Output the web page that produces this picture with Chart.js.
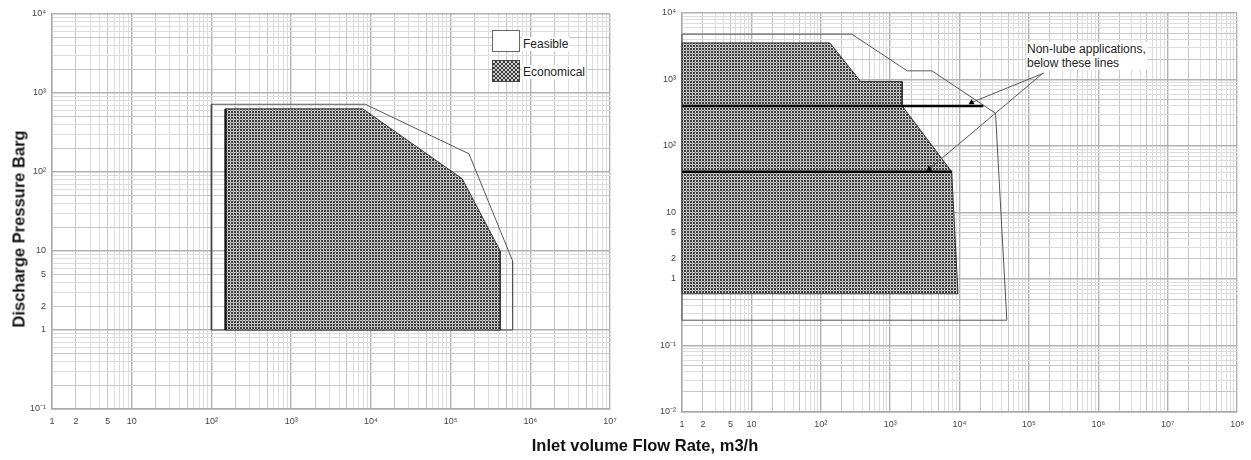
<!DOCTYPE html>
<html><head><meta charset="utf-8">
<script src="https://cdn.jsdelivr.net/npm/chart.js@4"></script>
<style>
body{margin:0;background:#fff;width:1251px;height:460px;overflow:hidden;position:relative;font-family:"Liberation Sans",Arial,sans-serif;color:#222}
canvas{position:absolute;top:0}
#c1{left:0}
#c2{left:630px}
.ov{position:absolute;white-space:nowrap}
.yt{left:19px;top:229px;transform:translate(-50%,-50%) rotate(-90deg);font-weight:bold;font-size:16.5px;color:#111}
.xt{left:645px;top:445px;transform:translate(-50%,-50%);font-weight:bold;font-size:16.5px;color:#111}
.sw{position:absolute;width:26px;height:20px;border:1px solid #666;background:#fff}
.sw2{background:repeating-conic-gradient(#3a3a3a 0 25%,#cfcfcf 0 50%) 0 0/4px 4px;border-color:#444}
.lt{font-size:12px;background:#fff;padding:0 1px;line-height:14px}
</style></head>
<body>
<canvas id="c1" width="630" height="460"></canvas>
<canvas id="c2" width="621" height="460"></canvas>
<div class="ov yt">Discharge Pressure Barg</div>
<div class="ov xt">Inlet volume Flow Rate, m3/h</div>
<div class="sw" style="left:492px;top:30px"></div>
<div class="sw sw2" style="left:492px;top:60px"></div>
<div class="ov lt" style="left:522px;top:37px">Feasible</div>
<div class="ov lt" style="left:522px;top:65px">Economical</div>
<div class="ov lt" style="left:1026px;top:42px">Non-lube applications,<br>below these lines</div>
<script>
// ---- data (x = inlet flow m3/h, y = discharge pressure barg) ----
const leftFeasible    = [[100,1],[100,720],[8500,720],[170000,170],[600000,7.5],[600000,1],[100,1]];
const leftEconomical  = [[150,1],[150,630],[7900,630],[140000,82],[420000,10],[420000,1],[150,1]];
const leftEconEdge    = [[150,1],[150,630]];
const leftFeasEdge    = [[100,1],[100,720]];
const rightFeasible   = [[1,0.24],[1,4800],[280,4800],[1760,1350],[4000,1350],[33000,310],[48000,0.24],[1,0.24]];
const rightEconomical = [[1,0.6],[1,3550],[135,3550],[376,930],[1490,930],[1490,400],[7700,41],[9500,0.6],[1,0.6]];
const nonLubeLine1    = [[1,400],[22000,400]];
const nonLubeLine2    = [[1,41],[7700,41]];
const leader1         = [[164000,1250],[14900,451]];
const leader2         = [[160000,1250],[3640,45]];
const arrowTips       = [[14900,451],[3640,45]];

const leftXTickValues  = [1,2,5,10,100,1e3,1e4,1e5,1e6,1e7];
const leftXTickLabels  = ['1','2','5','10','10²','10³','10⁴','10⁵','10⁶','10⁷'];
const rightXTickValues = [1,2,5,10,100,1e3,1e4,1e5,1e6,1e7,1e8];
const rightXTickLabels = ['1','2','5','10','10²','10³','10⁴','10⁵','10⁶','10⁷','10⁸'];
const leftYTickValues  = [0.1,1,2,5,10,100,1e3,1e4];
const leftYTickLabels  = ['10⁻¹','1','2','5','10','10²','10³','10⁴'];
const rightYTickValues = [0.01,0.1,1,2,5,10,100,1e3,1e4];
const rightYTickLabels = ['10⁻²','10⁻¹','1','2','5','10','10²','10³','10⁴'];

const FONT = '"Liberation Sans", Arial, sans-serif';
const pts = a => a.map(p => ({x:p[0], y:p[1]}));

function makePattern(){
  const c=document.createElement('canvas'); c.width=3; c.height=3;
  const g=c.getContext('2d');
  g.fillStyle='#d2d2d2'; g.fillRect(0,0,3,3);
  g.fillStyle='#3a3a3a'; g.fillRect(0,0,2,2);
  g.fillStyle='#8a8a8a'; g.fillRect(2,2,1,1);
  return g.createPattern(c,'repeat');
}
const PAT = makePattern();

function logTicks(e0,e1){
  const a=[];
  for(let e=e0;e<e1;e++) for(let m=1;m<10;m++) a.push(m*Math.pow(10,e));
  a.push(Math.pow(10,e1));
  return a;
}
function kind(v){
  const e=Math.floor(Math.log10(v)+1e-9);
  const m=Math.round(v/Math.pow(10,e));
  return m===1?0:(m===2||m===5?1:2);
}
const GC=['#b2b2b2','#c6c6c6','#dcdcdc'];
const GW=[1.4,1,1];
function labelFor(vals,labs){
  return v => { for(let i=0;i<vals.length;i++){ if(Math.abs(Math.log10(v)-Math.log10(vals[i]))<1e-6) return labs[i]; } return ''; };
}
function axis(min,max,e0,e1,vals,labs,isX,size){
  return {
    type:'logarithmic', min:min, max:max,
    afterBuildTicks:s=>{ s.ticks=logTicks(e0,e1).map(v=>({value:v})); },
    afterFit:s=>{ if(isX) s.height=size; else s.width=size; },
    grid:{drawTicks:false,
      color:c=>c.tick?GC[kind(c.tick.value)]:GC[0],
      lineWidth:c=>c.tick?GW[kind(c.tick.value)]:1},
    border:{display:true,color:'#a8a8a8',width:1.4},
    ticks:{autoSkip:false,maxRotation:0,minRotation:0,padding:isX?7:6,color:'#444',
      font:{size:9,family:FONT},callback:labelFor(vals,labs)}
  };
}
function line(data,color,width,extra){
  return Object.assign({data:pts(data),showLine:true,borderColor:color,borderWidth:width,
    pointRadius:0,fill:false,tension:0,clip:false},extra||{});
}
const common = {
  responsive:false, animation:false,
  plugins:{legend:{display:false},tooltip:{enabled:false}},
};

new Chart(document.getElementById('c1'),{
  type:'scatter',
  data:{datasets:[
    line(leftEconEdge,'#111',2.2),
    line(leftFeasEdge,'#444',1.6),
    line(leftEconomical,'#3a3a3a',1,{fill:'shape',backgroundColor:PAT}),
    line(leftFeasible,'#555',1)
  ]},
  options:Object.assign({},common,{
    layout:{padding:{left:0,top:14,right:20,bottom:26}},
    scales:{
      x:axis(1,1e7,0,7,leftXTickValues,leftXTickLabels,true,25),
      y:axis(0.1,1e4,-1,4,leftYTickValues,leftYTickLabels,false,52)
    }
  })
});

new Chart(document.getElementById('c2'),{
  type:'scatter',
  data:{datasets:[
    line(arrowTips,'#000',0,{showLine:false,pointRadius:3.5,pointStyle:'triangle',pointBackgroundColor:'#000',pointBorderColor:'#000'}),
    line(leader1,'#555',1),
    line(leader2,'#555',1),
    line(nonLubeLine1,'#000',2.5),
    line(nonLubeLine2,'#000',2.5),
    line(rightEconomical,'#333',1,{fill:'shape',backgroundColor:PAT}),
    line(rightFeasible,'#555',1)
  ]},
  options:Object.assign({},common,{
    layout:{padding:{left:0,top:13,right:13,bottom:23}},
    scales:{
      x:axis(1,1e8,0,8,rightXTickValues,rightXTickLabels,true,25),
      y:axis(0.01,1e4,-2,4,rightYTickValues,rightYTickLabels,false,52)
    }
  })
});
</script>
</body></html>
